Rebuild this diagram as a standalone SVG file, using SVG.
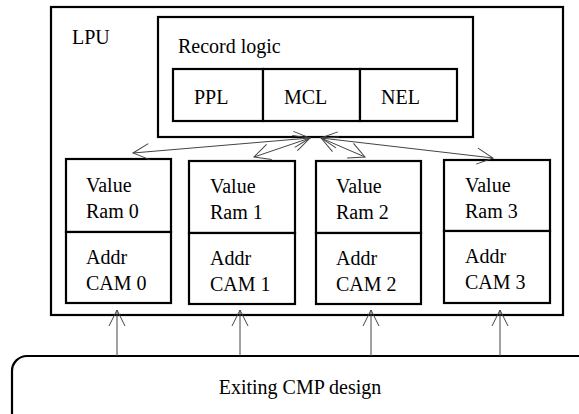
<svg xmlns="http://www.w3.org/2000/svg" width="579" height="414" viewBox="0 0 579 414">
<style>
.box{fill:#fff;stroke:#000;stroke-width:2.2}
.t{font-family:'Liberation Serif','Times New Roman','DejaVu Serif',serif;font-size:20px;fill:#000}
.c{fill:none;stroke:#444;stroke-width:1}
</style>
<defs>
<marker id="ah" markerUnits="userSpaceOnUse" markerWidth="20" markerHeight="20" refX="16" refY="8" orient="auto-start-reverse" overflow="visible">
<path d="M0,0 L16,8 L0,16" fill="none" stroke="#444" stroke-width="1"/>
</marker>
</defs>
<rect width="579" height="414" fill="#fff"/>
<g id="lpu">
<rect class="box" x="51" y="7" width="512" height="308" stroke-width="2"/>
<text class="t" x="72" y="44" font-family="Liberation Serif, serif">LPU</text>
</g>
<g id="record-logic">
<rect class="box" x="158" y="17" width="315" height="120"/>
<text class="t" x="178" y="53">Record logic</text>
</g>
<g id="ppl">
<rect class="box" x="173" y="69" width="90" height="52"/>
<text class="t" x="194" y="104">PPL</text>
</g>
<g id="mcl">
<rect class="box" x="263" y="69" width="97" height="52"/>
<text class="t" x="284" y="104">MCL</text>
</g>
<g id="nel">
<rect class="box" x="360" y="69" width="97" height="52"/>
<text class="t" x="381" y="104">NEL</text>
</g>
<g id="unit0">
<rect class="box" x="66" y="159" width="105" height="73"/>
<rect class="box" x="66" y="232" width="105" height="71"/>
<text class="t" x="86" y="192">Value</text>
<text class="t" x="86" y="218">Ram 0</text>
<text class="t" x="86" y="264">Addr</text>
<text class="t" x="86" y="290">CAM 0</text>
</g>
<g id="unit1">
<rect class="box" x="189" y="161" width="106" height="72"/>
<rect class="box" x="189" y="233" width="106" height="71"/>
<text class="t" x="210" y="193">Value</text>
<text class="t" x="210" y="219">Ram 1</text>
<text class="t" x="210" y="265">Addr</text>
<text class="t" x="210" y="291">CAM 1</text>
</g>
<g id="unit2">
<rect class="box" x="316" y="161" width="105" height="72"/>
<rect class="box" x="316" y="233" width="105" height="71"/>
<text class="t" x="336" y="193">Value</text>
<text class="t" x="336" y="219">Ram 2</text>
<text class="t" x="336" y="265">Addr</text>
<text class="t" x="336" y="291">CAM 2</text>
</g>
<g id="unit3">
<rect class="box" x="444" y="160" width="106" height="71"/>
<rect class="box" x="444" y="231" width="106" height="72"/>
<text class="t" x="465" y="192">Value</text>
<text class="t" x="465" y="218">Ram 3</text>
<text class="t" x="465" y="263">Addr</text>
<text class="t" x="465" y="289">CAM 3</text>
</g>
<g id="cmp">
<rect class="box" x="12" y="356" width="600" height="90" rx="15" ry="15"/>
<text class="t" x="300" y="394" text-anchor="middle">Exiting CMP design</text>
</g>
<g id="connectors">
<line class="c" x1="133" y1="153" x2="310" y2="138" marker-start="url(#ah)" marker-end="url(#ah)"/>
<line class="c" x1="254" y1="157" x2="310" y2="138" marker-start="url(#ah)" marker-end="url(#ah)"/>
<line class="c" x1="365" y1="157" x2="321" y2="138" marker-start="url(#ah)" marker-end="url(#ah)"/>
<line class="c" x1="493" y1="158" x2="321" y2="138" marker-start="url(#ah)" marker-end="url(#ah)"/>
<line class="c" x1="117" y1="356" x2="117" y2="310" marker-end="url(#ah)"/>
<line class="c" x1="240" y1="356" x2="240" y2="310" marker-end="url(#ah)"/>
<line class="c" x1="371" y1="356" x2="371" y2="310" marker-end="url(#ah)"/>
<line class="c" x1="500" y1="356" x2="500" y2="310" marker-end="url(#ah)"/>
</g>
</svg>
